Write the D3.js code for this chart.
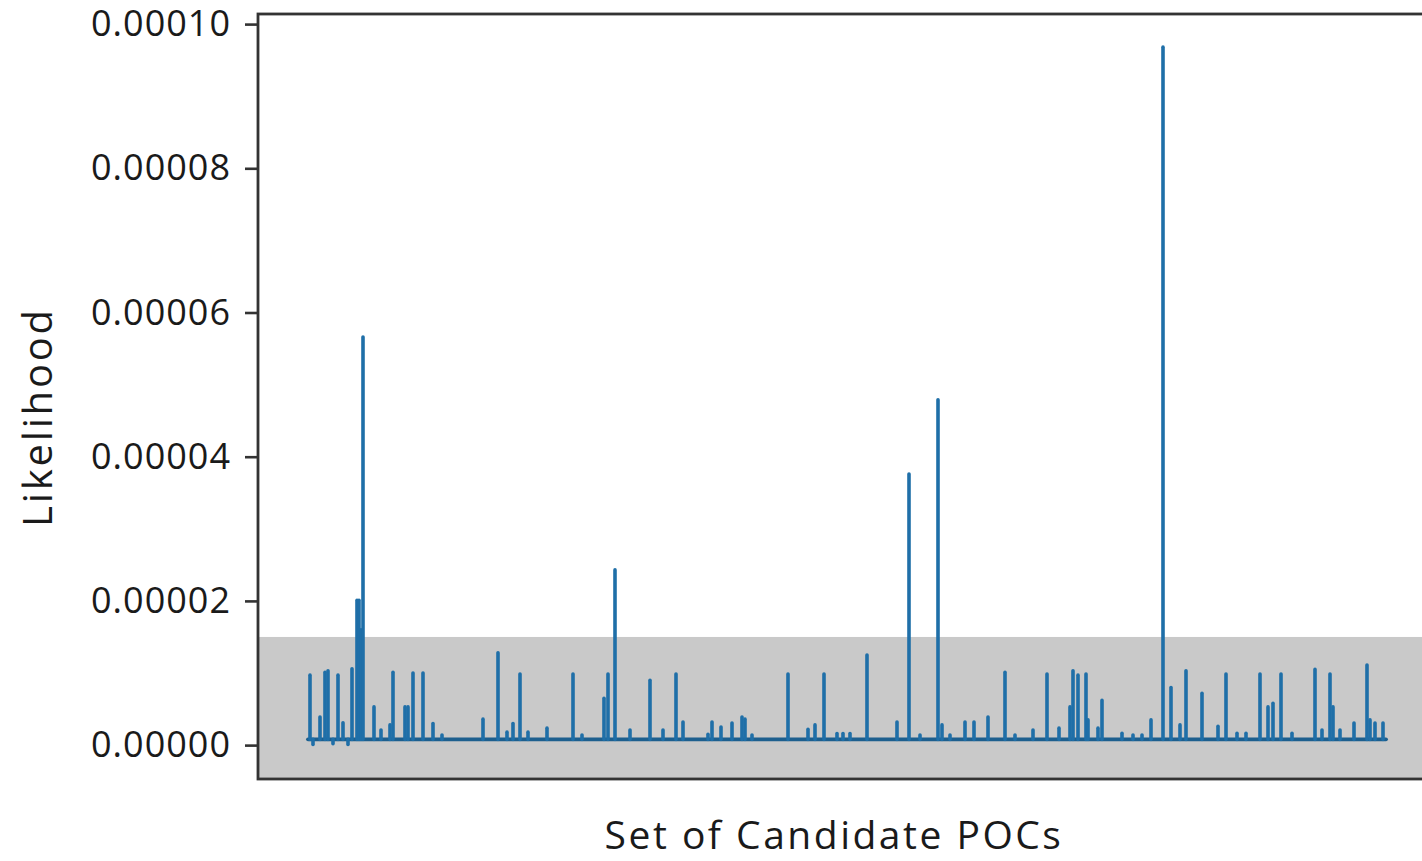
<!DOCTYPE html>
<html>
<head>
<meta charset="utf-8">
<script src="https://cdn.jsdelivr.net/npm/d3@7"></script>
<style>
    body { margin: 0; background: #fff; }
    svg text { font-family: "Open Sans", sans-serif; fill: #1a1a1a; }
</style>
</head>
<body>
<div id="chart"></div>
<script>
let chart_width = 1422;
let chart_height = 861;

// candidate index of each spike and its likelihood
let spike_idx = [2,5,12,17,20,25,30,35,40,44,49,51,53,55,66,73,82,85,97,100,105,115,125,134,
    175,190,199,205,212,220,239,265,274,296,300,307,322,342,355,368,375,
    400,404,413,424,434,437,444,480,500,507,516,529,535,542,559,589,601,612,630,634,642,
    657,666,680,697,707,725,739,751,762,765,770,778,780,790,794,814,825,834,843,
    855,863,872,878,894,910,918,929,938,952,960,965,973,984,1007,1014,1022,1025,1032,
    1046,1059,1062,1067,1075];
let spike_val = [9.7,0.1,3.9,10.1,10.3,0.2,9.7,3.1,0.1,10.6,20.1,20.1,16,56.6,5.3,2.1,2.8,10.1,5.3,5.3,10.0,10.0,3.0,1.4,
    3.6,12.8,1.8,3.0,9.85,1.8,2.35,9.85,1.4,6.5,9.85,24.3,2.1,9.0,2.1,9.85,3.2,
    1.5,3.2,2.5,3.05,3.9,3.6,1.4,9.85,2.2,2.8,9.85,1.6,1.6,1.6,12.5,3.2,37.6,1.4,47.9,2.8,1.4,
    3.2,3.2,3.9,10.1,1.4,2.1,9.85,2.35,5.3,10.3,9.7,9.85,3.5,2.35,6.2,1.65,1.4,1.4,3.5,
    96.8,8.0,2.8,10.3,7.2,2.6,9.85,1.65,1.65,9.85,5.3,5.8,9.85,1.65,10.5,2.1,9.85,5.3,2.1,
    3.05,11.1,3.5,3.05,3.05];
let base_val = 0.8;          // floor level of the trace, x1e-6
let first_idx = 0;
let last_idx = 1078;
let band_top = 15;           // shaded band upper edge, x1e-6
let y_ticks = [0, 20, 40, 60, 80, 100];
let y_tick_labels = ['0.00000','0.00002','0.00004','0.00006','0.00008','0.00010'];

let spikes = spike_idx.map((d,i)=>({'idx':d,'val':spike_val[i]*1e-6}));

const xScale = d3.scaleLinear().domain([-50,1132]).range([258,1440]);
const yScale = d3.scaleLinear().domain([-4.7e-6,101.4e-6]).range([779,14]);

let svg = d3.select('#chart')
    .append('svg')
    .attr('width',chart_width)
    .attr('height',chart_height);

// shaded band
svg.append('rect')
    .attr('x',xScale(-50))
    .attr('y',yScale(band_top*1e-6))
    .attr('width',xScale(1132)-xScale(-50))
    .attr('height',yScale(-4.7e-6)-yScale(band_top*1e-6))
    .attr('fill','#c9c9c9');

let trace = svg.append('g')
    .attr('stroke','#1f6fa8')
    .attr('stroke-width',3.6)
    .attr('stroke-linecap','round');

trace.append('line')
    .attr('x1',xScale(first_idx))
    .attr('x2',xScale(last_idx))
    .attr('y1',yScale(base_val*1e-6))
    .attr('y2',yScale(base_val*1e-6))
    .attr('stroke','#1d5f8e')
    .attr('stroke-width',3.8);

trace.selectAll('line.spike')
    .data(spikes)
    .enter()
    .append('line')
    .attr('class','spike')
    .attr('x1',d=>xScale(d.idx))
    .attr('x2',d=>xScale(d.idx))
    .attr('y1',yScale(base_val*1e-6))
    .attr('y2',d=>yScale(d.val));

// frame
svg.append('rect')
    .attr('x',xScale(-50))
    .attr('y',yScale(101.4e-6))
    .attr('width',xScale(1132)-xScale(-50))
    .attr('height',yScale(-4.7e-6)-yScale(101.4e-6))
    .attr('fill','none')
    .attr('stroke','#333')
    .attr('stroke-width',2.8);

// y axis
let yAxis = d3.axisLeft(yScale)
    .tickValues(y_ticks.map(d=>d*1e-6))
    .tickFormat((d,i)=>y_tick_labels[i])
    .tickSize(13)
    .tickPadding(14);

let ax = svg.append('g')
    .attr('transform','translate('+xScale(-50)+',0)')
    .call(yAxis);
ax.select('.domain').remove();
ax.selectAll('line').attr('stroke','#333').attr('stroke-width',2.6);
ax.selectAll('text')
    .style('font-size','36px')
    .style('letter-spacing','1px')
    .attr('fill','#1a1a1a');

svg.append('text')
    .text('Set of Candidate POCs')
    .attr('x',834)
    .attr('y',849)
    .attr('text-anchor','middle')
    .style('font-size','39px')
    .style('letter-spacing','2.5px');

svg.append('text')
    .text('Likelihood')
    .attr('transform','translate(52,417) rotate(-90)')
    .attr('text-anchor','middle')
    .style('font-size','40px')
    .style('letter-spacing','2.8px');
</script>
</body>
</html>
